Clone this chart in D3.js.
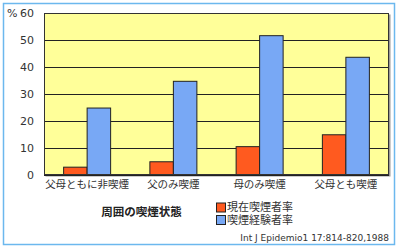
<!DOCTYPE html>
<html><head><meta charset="utf-8">
<script src="https://cdn.jsdelivr.net/npm/d3@7"></script>
<style>body{margin:0;background:#fff}svg{display:block}</style>
</head><body>
<svg id="c" width="400" height="250"></svg>
<script>
const categories = ["父母ともに非喫煙","父のみ喫煙","母のみ喫煙","父母とも喫煙"];
const currentRate = [2.9, 4.9, 10.5, 14.9];
const everRate = [24.8, 34.7, 51.6, 43.6];
const seriesNames = ["現在喫煙者率","喫煙経験者率"];
const yTicks = [0,10,20,30,40,50,60];
const xTitle = "周囲の喫煙状態";
const citation = "Int J Epidemio1 17:814-820,1988";

const colors = ["#FF5A1F","#78A8F5"];
const font = "'Noto Sans CJK JP', 'DejaVu Sans', sans-serif";
const latin = "'DejaVu Sans', 'Noto Sans CJK JP', sans-serif";
const svg = d3.select("#c");
svg.append("rect").attr("x",3.5).attr("y",3.5).attr("width",391).attr("height",241)
  .attr("fill","#fff").attr("stroke","#6CB8EE").attr("stroke-width",1.5);

const m = {l:44, t:13, r:389, b:175};
const x = d3.scaleBand().domain(categories).range([m.l, m.r]);
const y = d3.scaleLinear().domain([0,60]).range([m.b, m.t]);

// shadow
svg.append("rect").attr("x",m.l+1.5).attr("y",m.t+1.5).attr("width",m.r-m.l).attr("height",m.b-m.t)
  .attr("fill","#999");
svg.append("rect").attr("x",m.l).attr("y",m.t).attr("width",m.r-m.l).attr("height",m.b-m.t)
  .attr("fill","#FFFF99");

svg.append("g").selectAll("line").data(yTicks).join("line")
  .attr("x1",m.l).attr("x2",m.r).attr("y1",d=>Math.round(y(d))+0.5).attr("y2",d=>Math.round(y(d))+0.5)
  .attr("stroke","#222").attr("stroke-width",1);

const bw = 23.5;
const data = [currentRate, everRate];
data.forEach((vals,si)=>{
  svg.append("g").selectAll("rect").data(categories).join("rect")
    .attr("x",(d)=> x(d)+x.bandwidth()/2 + (si===0 ? -bw : 0))
    .attr("y",(d,i)=>y(vals[i]))
    .attr("width",bw)
    .attr("height",(d,i)=>y(0)-y(vals[i]))
    .attr("fill",colors[si]).attr("stroke","#222").attr("stroke-width",1);
});

svg.append("rect").attr("x",m.l+0.5).attr("y",m.t+0.5).attr("width",m.r-m.l-1).attr("height",m.b-m.t-1)
  .attr("fill","none").attr("stroke","#333").attr("stroke-width",1);

// y ticks
svg.append("g").selectAll("text").data(yTicks).join("text")
  .attr("x",34).attr("y",d=>y(d)).attr("dy","0.36em").attr("text-anchor","end")
  .attr("font-family",latin).attr("font-size",11).attr("fill","#333").text(d=>d);
svg.append("text").attr("x",7).attr("y",y(60)).attr("dy","0.36em")
  .attr("font-family",latin).attr("font-size",11).attr("fill","#333").text("%");

// x labels
svg.append("g").selectAll("text").data(categories).join("text")
  .attr("x",d=>x(d)+x.bandwidth()/2).attr("y",184).attr("dy","0.36em").attr("text-anchor","middle")
  .attr("font-family",font).attr("font-size",10.5).attr("fill","#333").text(d=>d);

svg.append("text").attr("x",141.5).attr("y",212).attr("dy","0.36em").attr("text-anchor","middle")
  .attr("font-family",font).attr("font-size",11.5).attr("font-weight","600").attr("fill","#222").text(xTitle);

// legend
const legStep = 12.5, leg0 = 202.5;
seriesNames.forEach((n,i)=>{
  svg.append("rect").attr("x",216.5).attr("y",leg0 + i*legStep + 0.5).attr("width",9).attr("height",9)
    .attr("fill",colors[i]).attr("stroke","#222");
});
const legText = svg.append("text").attr("font-family",font).attr("font-size",11).attr("fill","#333");
legText.selectAll("tspan").data(seriesNames).join("tspan")
  .attr("x",227).attr("y",(d,i)=>leg0 + i*legStep + 5).attr("dy","0.36em").text(d=>d);

svg.append("text").attr("x",389).attr("y",237.5).attr("dy","0.36em").attr("text-anchor","end")
  .attr("font-family",latin).attr("font-size",9).attr("fill","#333").text(citation);
</script>
</body></html>
